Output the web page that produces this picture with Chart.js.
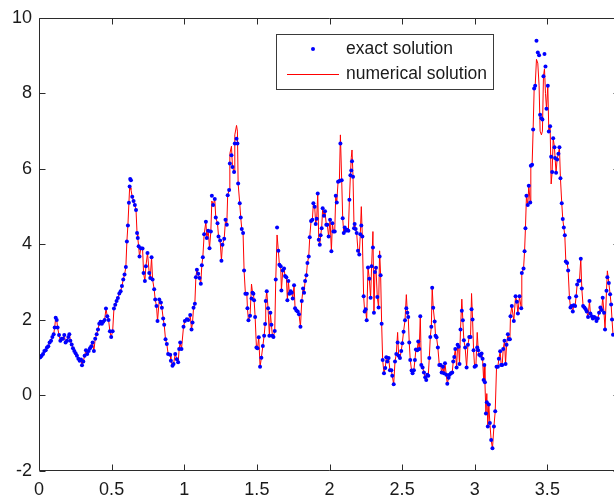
<!DOCTYPE html>
<html>
<head>
<meta charset="utf-8">
<script src="https://cdn.jsdelivr.net/npm/chart.js@4/dist/chart.umd.min.js"></script>
<style>
html,body{margin:0;padding:0;background:#fff;overflow:hidden;}
#wrap{width:614px;height:496px;overflow:hidden;position:relative;}
canvas{display:block;}
</style>
</head>
<body>
<div id="wrap"><canvas id="c" width="640" height="496"></canvas></div>
<script>
// x positions of the samples
const xs = [
0.000,0.009,0.018,0.028,0.037,0.046,0.055,0.064,0.073,0.083,
0.092,0.101,0.108,0.115,0.122,0.128,0.138,0.147,0.156,0.165,
0.174,0.183,0.193,0.202,0.209,0.216,0.225,0.234,0.243,0.252,
0.261,0.271,0.280,0.289,0.296,0.305,0.314,0.323,0.332,0.342,
0.351,0.360,0.369,0.378,0.387,0.397,0.406,0.415,0.424,0.433,
0.442,0.452,0.461,0.470,0.479,0.488,0.497,0.507,0.516,0.525,
0.534,0.543,0.553,0.562,0.571,0.580,0.589,0.598,0.605,0.612,
0.619,0.624,0.628,
0.633,0.642,0.651,0.660,0.668,0.675,0.680,0.686,0.692,0.701,
0.713,0.720,0.729,0.736,0.747,0.759,0.766,0.775,0.782,0.793,
0.800,0.809,0.816,0.828,0.839,0.846,0.855,0.862,0.871,0.880,
0.889,0.903,0.908,0.919,0.926,0.938,0.949,0.958,0.965,0.972,
0.981,0.995,1.004,1.018,1.027,1.041,1.050,1.057,1.064,1.073,
1.080,1.087,1.096,1.105,1.114,1.121,1.128,1.137,1.149,1.155,
1.165,1.174,1.183,1.190,1.199,1.210,1.217,1.229,1.236,1.247,
1.256,1.263,1.275,1.284,1.293,1.299,1.309,1.314,1.325,
1.332,1.343,1.348,1.360,1.366,1.371,1.382,1.389,1.396,1.405,
1.412,1.421,1.431,1.435,1.442,1.453,1.463,1.470,1.476,1.481,
1.488,1.497,1.504,1.513,1.522,1.531,1.541,1.550,1.557,1.561,
1.568,1.577,1.586,1.593,1.600,1.607,1.614,1.623,1.630,1.639,
1.648,1.655,1.664,1.669,1.678,1.687,1.694,1.703,1.710,1.717,
1.724,1.733,1.740,1.747,1.756,1.763,1.772,1.781,1.790,1.800,
1.809,1.818,1.825,1.832,1.841,1.848,1.857,1.864,1.873,1.882,
1.889,1.898,1.905,1.912,1.919,1.926,1.933,1.939,1.946,1.953,
1.962,1.969,1.978,1.985,1.994,2.004,
2.013,2.020,2.027,2.036,2.043,2.050,2.059,2.068,2.075,2.084,
2.091,2.098,2.105,2.111,2.121,2.130,2.137,2.144,2.150,2.155,
2.162,2.169,2.173,2.180,2.187,2.196,2.205,2.212,2.219,2.226,
2.235,2.242,2.249,2.256,2.265,2.274,2.283,2.290,2.299,2.306,
2.313,2.320,2.329,2.338,2.345,2.352,2.359,2.366,2.375,2.384,
2.391,2.398,2.407,2.416,2.426,2.432,2.442,2.451,2.460,2.469,
2.476,2.485,2.494,2.501,2.510,2.520,2.529,2.536,2.542,2.549,
2.556,2.565,2.572,2.581,2.588,2.595,2.604,2.611,2.618,2.625,
2.632,2.641,2.650,2.659,2.666,2.673,2.680,2.687,2.694,
2.701,2.707,2.714,2.724,2.730,2.737,2.746,2.756,2.765,2.772,
2.781,2.788,2.795,2.804,2.811,2.820,2.827,2.836,2.845,2.852,
2.859,2.866,2.875,2.882,2.889,2.895,2.902,2.911,2.918,2.925,
2.934,2.944,2.953,2.962,2.971,2.978,2.985,2.992,2.999,3.008,
3.017,3.024,3.031,3.040,3.047,3.054,3.061,3.066,3.070,3.077,
3.083,3.090,3.097,3.104,3.113,3.122,3.132,3.141,3.150,3.159,
3.166,3.175,3.182,3.189,3.196,3.205,3.212,3.219,3.228,3.235,
3.242,
3.246,3.255,3.269,3.281,3.290,3.297,3.308,3.320,3.324,3.336,
3.343,3.349,3.356,3.365,3.372,3.382,3.386,3.395,3.402,3.409,
3.416,3.425,3.434,3.443,3.450,3.459,3.466,3.473,3.480,3.487,
3.494,3.503,3.510,3.519,3.526,3.533,3.540,3.549,3.553,3.560,
3.567,3.576,3.583,3.590,3.599,3.606,3.613,3.620,3.627,3.636,
3.643,3.652,3.659,3.666,3.675,3.682,3.691,3.698,3.705,3.714,
3.721,3.730,3.737,3.746,3.755,3.764,3.771,3.780,3.790,3.796,
3.806,3.813,3.822,3.829,3.838,3.847,3.856,3.865,3.874,3.881,
3.890,3.897,3.907,3.913,3.923,3.932,3.939,3.945,3.952
];

// exact solution (blue dots)
const exact = [
1.00,1.01,1.05,1.10,1.18,1.20,1.27,1.30,1.40,1.45,
1.55,1.62,1.80,2.06,2.00,1.80,1.60,1.45,1.50,1.50,
1.60,1.40,1.45,1.55,1.62,1.45,1.35,1.25,1.18,1.12,
1.05,0.97,0.92,0.95,0.80,0.90,1.05,1.20,1.10,1.18,
1.25,1.30,1.40,1.18,1.50,1.62,1.75,1.90,1.95,1.90,
1.95,2.00,2.30,2.10,2.00,1.70,1.55,1.70,2.30,2.40,
2.50,2.58,2.70,2.76,2.90,3.07,3.20,3.40,4.08,4.50,
5.10,5.53,5.73,
5.70,5.26,5.15,5.04,4.91,4.30,4.17,3.95,3.68,3.90,
3.89,3.24,3.03,3.42,3.77,3.24,3.11,3.66,3.07,2.81,
2.54,2.37,1.97,2.54,2.46,2.32,2.04,1.87,1.49,1.36,
1.10,1.08,0.92,0.79,0.83,1.10,0.96,0.88,1.23,1.40,
1.23,1.82,1.97,2.02,2.00,2.13,1.75,1.93,2.32,2.43,
3.13,3.33,3.22,3.11,2.96,3.45,3.66,4.27,4.60,4.17,
4.36,3.90,4.34,5.29,5.04,5.20,4.71,4.56,4.21,4.10,
3.57,3.99,4.15,4.65,4.52,5.30,5.44,6.14,6.36,
6.05,5.92,6.67,6.80,6.67,5.61,5.09,4.71,4.41,4.30,
3.31,2.69,2.69,2.31,1.99,2.11,2.57,2.72,2.69,2.52,
2.08,1.27,1.25,1.54,0.76,1.00,1.31,1.58,1.89,2.50,
2.76,2.31,1.58,2.19,1.87,1.58,1.55,1.71,3.07,4.45,
3.83,3.46,3.42,2.78,3.31,3.36,3.16,3.13,2.52,3.03,
2.69,2.76,2.72,2.57,2.92,2.31,2.25,2.22,2.15,1.82,
2.50,2.83,2.72,3.03,3.18,3.51,3.68,4.19,4.62,4.65,
5.09,5.00,4.54,4.68,5.35,4.12,3.99,4.24,4.43,4.96,
4.76,4.88,4.52,4.52,4.21,4.65,
3.82,4.56,4.34,4.34,5.29,5.11,5.66,5.68,6.67,5.70,
4.69,4.30,4.45,4.36,4.39,4.36,5.18,5.83,5.96,6.20,
5.79,4.43,4.54,4.41,4.30,3.83,3.73,4.27,4.50,4.21,
2.63,2.22,2.28,1.99,3.39,3.09,2.59,3.42,3.92,2.19,
3.27,3.38,2.61,2.33,3.68,3.18,1.90,0.94,0.59,0.73,
1.01,0.90,0.99,0.67,0.67,0.52,0.30,0.90,1.10,1.40,
1.05,0.99,1.18,1.38,1.69,1.99,2.31,2.19,2.08,1.40,
0.94,0.66,0.59,0.67,0.94,1.22,1.20,1.43,1.23,2.10,
0.81,0.74,0.61,0.48,0.41,0.55,0.52,0.99,1.55,
1.82,2.85,2.32,1.96,1.58,1.54,1.27,0.81,0.81,0.61,
0.76,0.59,0.85,0.55,0.31,0.47,0.55,0.59,0.61,0.90,
1.02,1.23,0.74,1.34,1.29,0.83,1.75,2.24,1.99,1.46,
1.27,0.74,1.34,1.55,1.55,2.28,2.01,1.20,0.76,0.79,
1.27,1.20,1.08,1.05,1.11,0.97,0.41,0.81,0.35,-0.48,
-0.18,-0.82,-0.24,-0.73,-1.18,-1.40,-0.82,-0.42,0.76,0.76,
0.97,1.17,0.81,0.81,1.23,1.45,0.83,1.34,1.62,1.49,
1.49,
2.10,2.37,1.97,2.63,2.48,2.17,2.63,2.31,3.24,3.36,
3.82,4.43,5.29,5.04,5.55,5.11,6.08,6.11,7.04,8.13,
8.20,9.39,9.08,9.01,7.43,7.34,7.31,8.45,9.04,8.71,
7.59,8.20,6.99,7.13,6.32,5.92,6.81,6.57,6.29,5.90,
6.25,6.40,6.57,5.75,5.09,4.67,4.45,4.24,3.55,3.51,
3.31,2.59,2.33,2.37,2.22,2.39,2.37,2.63,2.94,3.04,
3.04,3.62,2.83,2.37,2.33,2.28,2.22,2.08,2.50,2.17,
2.10,2.04,2.08,2.06,1.97,2.04,2.19,2.33,2.26,2.59,
2.19,1.75,2.77,3.13,2.98,2.68,2.41,2.01,1.61
];

// numerical solution (red line)
const numerical = [
1.00,1.01,1.05,1.10,1.18,1.20,1.27,1.30,1.40,1.45,
1.55,1.62,1.80,2.06,2.00,1.80,1.60,1.45,1.50,1.50,
1.60,1.40,1.45,1.55,1.62,1.45,1.35,1.25,1.18,1.12,
1.05,0.97,0.92,0.95,0.80,0.90,1.05,1.20,1.10,1.18,
1.25,1.30,1.40,1.18,1.50,1.62,1.75,1.90,1.95,1.90,
1.95,2.00,2.30,2.10,2.00,1.70,1.55,1.70,2.30,2.40,
2.50,2.58,2.70,2.76,2.90,3.07,3.20,3.40,4.08,4.50,
5.10,5.50,5.50,
5.45,5.26,5.15,5.04,4.91,4.30,4.17,3.95,3.68,3.90,
3.89,3.24,3.03,3.42,3.77,3.24,3.11,3.66,3.07,2.81,
2.54,2.37,1.97,2.54,2.46,2.32,2.04,1.87,1.49,1.36,
1.10,1.08,0.92,0.79,0.83,1.10,0.96,0.88,1.23,1.40,
1.23,1.82,1.97,2.02,2.00,2.13,1.75,1.93,2.32,2.43,
3.13,3.33,3.22,3.11,2.96,3.45,3.66,4.27,4.60,4.17,
4.36,3.90,4.34,5.15,5.04,5.20,4.71,4.56,4.21,4.10,
3.57,3.99,4.15,4.65,4.52,5.30,5.44,6.40,6.60,
6.05,5.92,6.90,7.15,7.00,5.61,5.09,4.71,4.41,4.30,
3.31,2.69,2.69,2.31,1.99,2.11,2.95,2.72,2.69,2.52,
2.08,1.27,1.25,1.54,0.76,1.00,1.31,1.58,1.89,2.50,
2.76,2.31,1.58,2.19,1.87,1.58,1.55,1.71,3.07,4.25,
3.83,3.46,3.42,2.78,3.31,3.36,3.16,3.13,2.52,3.03,
2.69,2.76,2.72,2.57,2.92,2.31,2.25,2.22,2.15,1.82,
2.50,2.83,2.72,3.03,3.18,3.51,3.68,4.19,4.62,4.65,
5.09,5.00,4.54,4.68,5.35,4.12,3.99,4.24,4.43,4.96,
4.76,4.88,4.52,4.52,4.21,4.65,
3.82,4.56,4.34,4.34,5.29,5.11,5.66,5.68,6.90,5.70,
4.69,4.30,4.45,4.36,4.39,4.36,5.18,5.83,6.30,6.50,
5.79,4.43,4.54,4.41,4.30,3.83,3.73,4.27,5.00,4.21,
2.63,2.22,2.28,1.99,3.39,3.09,2.59,3.42,4.34,2.19,
3.27,3.38,2.61,2.33,3.83,3.18,1.90,0.94,0.59,0.73,
1.01,0.90,0.99,0.67,0.67,0.52,0.30,0.90,1.10,1.67,
1.05,0.99,1.18,1.38,1.69,1.99,2.67,2.19,2.08,1.40,
0.94,0.66,0.59,0.67,0.94,1.22,1.20,1.43,1.23,2.10,
0.81,0.74,0.61,0.48,0.41,0.55,0.52,0.99,1.55,
1.82,2.85,2.32,1.96,1.58,1.54,1.27,0.81,0.81,0.61,
0.76,0.59,0.85,0.55,0.31,0.47,0.55,0.59,0.61,0.90,
1.02,1.23,0.74,1.34,1.29,0.83,1.75,2.55,1.99,1.46,
1.27,0.74,1.34,1.55,1.55,2.70,2.01,1.20,0.76,0.79,
1.67,1.20,1.08,1.05,1.11,0.97,0.41,0.81,0.35,-0.48,
0.05,-0.82,-0.24,-0.73,-1.18,-1.40,-0.82,-0.42,0.76,0.76,
0.97,1.17,0.81,0.81,1.23,1.45,0.83,1.34,1.62,1.49,
1.49,
2.10,2.37,1.97,2.63,2.48,2.17,2.63,2.31,3.24,3.36,
3.82,4.43,5.29,5.04,5.55,5.11,6.08,6.11,7.04,8.13,
8.20,8.90,8.80,8.20,7.00,6.90,7.00,8.45,8.65,8.00,
7.59,8.20,6.99,7.13,5.60,5.92,6.81,6.57,6.29,5.90,
6.25,6.40,6.57,5.75,5.09,4.67,4.45,4.24,3.55,3.51,
3.31,2.59,2.33,2.37,2.22,2.39,2.37,2.63,2.94,3.04,
3.04,3.62,2.83,2.37,2.33,2.28,2.22,2.08,2.50,2.17,
2.10,2.04,2.08,2.06,1.97,2.04,2.19,2.33,2.26,2.59,
2.19,1.75,2.77,3.30,2.98,2.68,2.41,2.01,1.61
];

const seriesLabels = ['exact solution', 'numerical solution'];
const xRange = [0, 4];
const yRange = [-2, 10];
const xStep = 0.5;
const yStep = 2;

const FONT = '"Liberation Sans", Arial, Helvetica, sans-serif';
const plainNum = v => String(Math.round(v * 100) / 100);

const framePlugin = {
  id: 'frame',
  afterDraw(chart, args, o) {
    const {ctx, chartArea: a, scales} = chart;
    const xS = scales.x, yS = scales.y;
    const L = Math.round(a.left) + 0.5, R = Math.round(a.right) - 0.5;
    const T = Math.round(a.top) + 0.5, B = Math.round(a.bottom) - 0.5;
    ctx.save();
    ctx.strokeStyle = o.color;
    ctx.lineWidth = 1;
    ctx.beginPath();
    ctx.rect(L, T, R - L, B - T);
    xS.ticks.forEach(t => {
      const p = Math.round(xS.getPixelForValue(t.value)) + 0.5;
      ctx.moveTo(p, B); ctx.lineTo(p, B - o.len);
      ctx.moveTo(p, T); ctx.lineTo(p, T + o.len);
    });
    yS.ticks.forEach(t => {
      const p = Math.round(yS.getPixelForValue(t.value)) + 0.5;
      ctx.moveTo(L, p); ctx.lineTo(L + o.len, p);
      ctx.moveTo(R, p); ctx.lineTo(R - o.len, p);
    });
    ctx.stroke();
    ctx.restore();
  }
};

const legendPlugin = {
  id: 'boxLegend',
  afterDraw(chart, args, o) {
    const ctx = chart.ctx;
    const ds = chart.data.datasets;
    ctx.save();
    ctx.fillStyle = '#ffffff';
    ctx.fillRect(o.x, o.y, o.w, o.h);
    ctx.strokeStyle = o.border;
    ctx.lineWidth = 1;
    ctx.strokeRect(o.x + 0.5, o.y + 0.5, o.w, o.h);
    const r1 = o.y + o.row1, r2 = o.y + o.row2;
    ctx.fillStyle = ds[0].backgroundColor;
    ctx.beginPath();
    ctx.arc(o.x + o.sym, r1, ds[0].pointRadius, 0, Math.PI * 2);
    ctx.fill();
    ctx.strokeStyle = ds[1].borderColor;
    ctx.lineWidth = ds[1].borderWidth;
    ctx.beginPath();
    ctx.moveTo(o.x + o.lineL, r2 + 0.5);
    ctx.lineTo(o.x + o.lineR, r2 + 0.5);
    ctx.stroke();
    ctx.fillStyle = o.color;
    ctx.font = o.font;
    ctx.textBaseline = 'middle';
    ctx.textAlign = 'left';
    ctx.fillText(ds[0].label, o.x + o.text, r1);
    ctx.fillText(ds[1].label, o.x + o.text, r2);
    ctx.restore();
  }
};

const exactPts = xs.map((x, i) => ({x: x, y: exact[i]}));
const numPts = xs.map((x, i) => ({x: x, y: numerical[i]}));

new Chart(document.getElementById('c'), {
  type: 'scatter',
  data: {
    datasets: [
      {
        label: seriesLabels[0],
        data: exactPts,
        showLine: false,
        pointRadius: 2,
        pointHoverRadius: 2,
        pointBorderWidth: 0,
        backgroundColor: '#0000ff',
        borderColor: '#0000ff',
        order: 0
      },
      {
        label: seriesLabels[1],
        data: numPts,
        showLine: true,
        pointRadius: 0,
        pointHoverRadius: 0,
        borderColor: '#ff0000',
        backgroundColor: '#ff0000',
        borderWidth: 1,
        tension: 0,
        order: 1
      }
    ]
  },
  options: {
    responsive: false,
    animation: false,
    devicePixelRatio: 1,
    layout: {padding: {top: 15, right: 20, left: 0, bottom: 0}},
    plugins: {
      legend: {display: false},
      tooltip: {enabled: false},
      frame: {color: '#2b2b2b', len: 6},
      boxLegend: {
        x: 276, y: 34, w: 217, h: 55,
        row1: 15, row2: 40, sym: 37, lineL: 11, lineR: 63, text: 70,
        border: '#3a3a3a', color: '#1a1a1a',
        font: '17.5px ' + FONT
      }
    },
    scales: {
      x: {
        type: 'linear',
        min: xRange[0], max: xRange[1],
        grid: {display: false, drawTicks: false},
        border: {display: false},
        ticks: {stepSize: xStep, color: '#1a1a1a', padding: 8, maxRotation: 0,
                font: {family: FONT, size: 18},
                callback: v => plainNum(v)},
        afterFit(s) { s.height = 25; }
      },
      y: {
        type: 'linear',
        min: yRange[0], max: yRange[1],
        grid: {display: false, drawTicks: false},
        border: {display: false},
        ticks: {stepSize: yStep, color: '#1a1a1a', padding: 7,
                font: {family: FONT, size: 18},
                callback: v => plainNum(v)},
        afterFit(s) { s.width = 39; }
      }
    }
  },
  plugins: [framePlugin, legendPlugin]
});
</script>
</body>
</html>
